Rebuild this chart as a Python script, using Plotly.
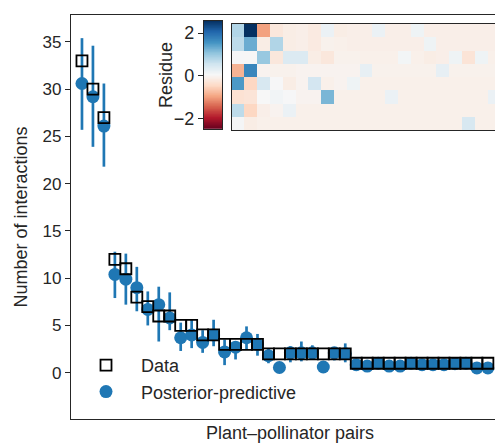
import numpy as np
import plotly.graph_objects as go

# ---------------- data ----------------
pair_index = list(range(1, 39))
observed = [33, 30, 27, 12, 11, 8, 7, 6, 6, 5, 5, 4, 4, 3, 3, 3, 3,
            2, 2, 2, 2, 2, 2, 2, 2,
            1, 1, 1, 1, 1, 1, 1, 1, 1, 1, 1, 1, 1]
pp_mean = [30.6, 29.2, 26.1, 10.4, 9.9, 9.0, 6.7, 7.2, 5.8, 3.7, 4.0, 3.2, 4.0,
           2.2, 2.7, 3.7, 3.0, 1.8, 0.55, 2.1, 2.1, 2.1, 0.6, 2.1, 2.0,
           0.85, 0.7, 1.0, 0.7, 0.7, 1.0, 0.85, 0.85, 0.85, 0.95, 1.0, 0.5, 0.5]
pp_low = [25.7, 23.9, 21.8, 7.9, 7.2, 6.5, 5.0, 3.3, 4.5, 2.3, 2.6, 2.1, 2.8,
          0.8, 1.4, 2.4, 1.8, 1.0, 0.2, 1.1, 1.2, 1.4, 0.25, 1.3, 1.1,
          0.45, 0.35, 0.6, 0.35, 0.35, 0.6, 0.45, 0.45, 0.45, 0.55, 0.6, 0.15, 0.15]
pp_high = [35.4, 34.6, 30.6, 12.8, 12.6, 11.2, 8.6, 9.1, 8.5, 5.3, 5.6, 4.5, 5.6,
           3.5, 3.3, 4.9, 4.1, 2.5, 0.9, 2.8, 3.3, 2.9, 0.95, 2.7, 3.1,
           1.25, 1.1, 1.4, 1.1, 1.1, 1.4, 1.25, 1.25, 1.25, 1.35, 1.4, 0.85, 0.85]
y_ticks = [0, 5, 10, 15, 20, 25, 30, 35]

residue = [
    [0.8, 2.57, -1.0, -0.25, -0.15, -0.12, -0.2, 0.2, -0.15, -0.12, -0.12, 0.2, -0.12, -0.12, 0.15, -0.12, -0.12, -0.12, -0.12, -0.12, -0.12],
    [0.7, 1.3, -0.15, 0.8, -0.15, -0.12, -0.2, -0.08, -0.1, -0.12, -0.12, -0.12, -0.12, -0.12, -0.12, 0.15, -0.12, -0.12, -0.12, -0.12, -0.12],
    [0.05, 0.02, 1.0, -0.25, 0.4, 0.4, -0.15, -0.25, -0.08, -0.08, -0.1, -0.1, -0.1, 0.1, -0.1, -0.15, -0.12, 0.15, -0.3, 0.15, -0.1],
    [-0.85, 1.7, -0.05, -0.08, -0.08, -0.05, -0.05, -0.05, -0.05, -0.05, 0.25, -0.08, -0.08, -0.08, -0.08, -0.08, 0.25, -0.08, -0.08, -0.08, -0.08],
    [1.5, -0.5, 0.45, 0.05, -0.15, -0.05, 0.5, -0.1, -0.05, 0.15, -0.1, -0.1, -0.1, -0.1, -0.1, -0.1, -0.1, -0.1, -0.1, -0.1, -0.1],
    [-0.35, -0.3, 0.03, 0.12, 0.05, -0.05, -0.05, 1.2, -0.1, -0.1, -0.1, -0.1, 0.2, -0.1, -0.1, -0.1, -0.1, -0.1, -0.1, -0.1, 0.2],
    [0.7, -0.5, -0.12, -0.05, 0.2, -0.1, -0.1, -0.1, -0.1, -0.1, -0.1, -0.1, -0.1, -0.1, -0.1, -0.1, -0.1, -0.1, -0.1, -0.1, -0.1],
    [0.08, -0.15, -0.1, -0.1, -0.1, -0.1, -0.1, -0.1, -0.1, -0.1, -0.1, -0.1, -0.1, -0.1, -0.1, -0.1, -0.1, -0.1, 0.45, -0.1, -0.1],
]
residue_min, residue_max = -2.5, 2.57
residue_ticks = [-2, 0, 2]

# ---------------- style ----------------
FONT = "Liberation Sans, Arial, sans-serif"
INK = "#262626"
BLUE = "#1f77b4"
RDBU = ['rgb(103,0,31)', 'rgb(178,24,43)', 'rgb(214,96,77)', 'rgb(244,165,130)',
        'rgb(253,219,199)', 'rgb(247,247,247)', 'rgb(209,229,240)', 'rgb(146,197,222)',
        'rgb(67,147,195)', 'rgb(33,102,172)', 'rgb(5,48,97)']
cscale = [[i / (len(RDBU) - 1), c] for i, c in enumerate(RDBU)]

W, H = 495, 443
ML, MR, MT, MB = 71, 0, 15, 24
PW, PH = W - ML - MR, H - MT - MB


def px_x(p):
    return (p - ML) / PW


def px_y(p):
    return (H - MB - p) / PH


fig = go.Figure()

err_plus = [h - m for h, m in zip(pp_high, pp_mean)]
err_minus = [m - l for m, l in zip(pp_mean, pp_low)]

fig.add_trace(go.Scatter(
    x=pair_index, y=pp_mean, mode="markers", name="Posterior-predictive",
    marker=dict(symbol="circle", size=13, color=BLUE, line=dict(width=0)),
    error_y=dict(type="data", array=err_plus, arrayminus=err_minus, symmetric=False,
                 color=BLUE, thickness=2.7, width=0),
    legendrank=2, xaxis="x", yaxis="y",
))
fig.add_trace(go.Scatter(
    x=pair_index, y=observed, mode="markers", name="Data",
    marker=dict(symbol="square", size=11, color="rgba(0,0,0,0)",
                line=dict(width=1.8, color="black")),
    legendrank=1, xaxis="x", yaxis="y",
))

# inset heatmap
ncol = len(residue[0])
fig.add_trace(go.Heatmap(
    z=residue, x=list(range(ncol)), y=list(range(len(residue))),
    colorscale=cscale, zmin=residue_min, zmax=residue_max, showscale=False,
    xaxis="x2", yaxis="y2", hoverinfo="skip",
))

# colorbar drawn as a gradient strip with its own axis
grad = np.linspace(residue_min, residue_max, 256)
fig.add_trace(go.Heatmap(
    z=[[g] for g in grad], x=[0], y=grad, colorscale=cscale,
    zmin=residue_min, zmax=residue_max, showscale=False,
    xaxis="x3", yaxis="y3", hoverinfo="skip",
))

axis_common = dict(linecolor=INK, linewidth=1.25, showgrid=False, zeroline=False,
                   automargin=False)

fig.update_layout(
    width=W, height=H,
    margin=dict(l=ML, r=MR, t=MT, b=MB, autoexpand=False),
    paper_bgcolor="white", plot_bgcolor="white",
    font=dict(family=FONT, color=INK, size=18),
    showlegend=True,
    legend=dict(x=px_x(71), y=px_y(347), xanchor="left", yanchor="top",
                bgcolor="rgba(0,0,0,0)", font=dict(size=18), itemwidth=60),
    xaxis=dict(domain=[0, 1], range=[0, 38.65], showline=True, mirror=True,
               showticklabels=False, ticks="", **axis_common),
    yaxis=dict(domain=[0, 1], range=[-4.9, 37.85], showline=True, mirror=False,
               tickvals=y_ticks, ticks="outside", ticklen=5, tickwidth=1.25, tickcolor=INK,
               tickfont=dict(size=17), title=dict(text="Number of interactions", font=dict(size=18), standoff=10),
               **axis_common),
    xaxis2=dict(domain=[px_x(231.5), 1.0], range=[-0.5, 20.08], anchor="y2",
                showline=True, mirror=True, showticklabels=False, ticks="", **axis_common),
    yaxis2=dict(domain=[px_y(130), px_y(24)], range=[7.5, -0.5], anchor="x2",
                showline=True, mirror=False, showticklabels=False, ticks="", **axis_common),
    xaxis3=dict(domain=[px_x(204), px_x(222)], range=[-0.5, 0.5], anchor="y3",
                showline=True, mirror=True, showticklabels=False, ticks="", **axis_common),
    yaxis3=dict(domain=[px_y(129), px_y(21)], range=[residue_min, residue_max], anchor="x3",
                showline=True, mirror=True, tickvals=residue_ticks, ticks="outside",
                ticklen=5, tickwidth=1.25, tickcolor=INK, tickfont=dict(size=18),
                **axis_common),
    annotations=[
        dict(text="Plant–pollinator pairs", xref="paper", yref="paper",
             x=px_x(290), y=px_y(433), xanchor="center", yanchor="middle",
             showarrow=False, font=dict(size=18, color=INK)),
        dict(text="Residue", xref="paper", yref="paper", textangle=-90,
             x=px_x(166), y=px_y(75), xanchor="center", yanchor="middle",
             showarrow=False, font=dict(size=18, color=INK)),
    ],
)

fig.write_html("out.html", post_script="document.body.style.margin='0';",
               config={"displayModeBar": False})
